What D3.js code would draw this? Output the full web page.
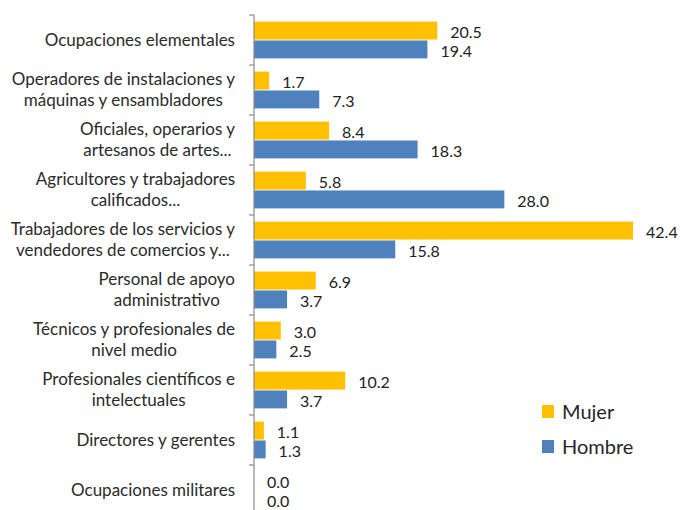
<!DOCTYPE html>
<html>
<head>
<meta charset="utf-8">
<script src="https://cdn.jsdelivr.net/npm/d3@7"></script>
<style>
  body { margin: 0; background: #fff; }
  svg { display: block; font-family: Lato, "Open Sans", sans-serif; }
</style>
</head>
<body>
<svg width="684" height="510"></svg>
<script>
// data
var categories = [
    "Ocupaciones elementales",
    "Operadores de instalaciones y|máquinas y ensambladores",
    "Oficiales, operarios y|artesanos de artes...",
    "Agricultores y trabajadores|calificados...",
    "Trabajadores de los servicios y|vendedores de comercios y...",
    "Personal de apoyo|administrativo",
    "Técnicos y profesionales de|nivel medio",
    "Profesionales científicos e|intelectuales",
    "Directores y gerentes",
    "Ocupaciones militares"
];
var series = ["Mujer", "Hombre"];
var mujer = [20.5, 1.7, 8.4, 5.8, 42.4, 6.9, 3.0, 10.2, 1.1, 0.0];
var hombre = [19.4, 7.3, 18.3, 28.0, 15.8, 3.7, 2.5, 3.7, 1.3, 0.0];
var colors = ["#FFC000", "#4F81BD"];

var svg = d3.select("svg");

var axisX = 254;

var x = d3.scaleLinear()
    .domain([0, 45])
    .range([axisX, axisX + 45 * 8.94]);

var y = d3.scaleBand()
    .domain(categories)
    .range([15, 515]);

var ySub = d3.scaleBand()
    .domain(series)
    .range([0, y.bandwidth()])
    .paddingInner(0.05)
    .paddingOuter(0.35);

var color = d3.scaleOrdinal().domain(series).range(colors);

var rows = categories.map(function (c, i) {
    return { cat: c, values: [{ s: "Mujer", v: mujer[i] }, { s: "Hombre", v: hombre[i] }] };
});

// bars
var groups = svg.selectAll("g.cat")
    .data(rows)
    .enter().append("g")
    .attr("class", "cat")
    .attr("transform", d => "translate(0," + y(d.cat) + ")");

groups.selectAll("rect")
    .data(d => d.values)
    .enter().append("rect")
    .attr("x", x(0))
    .attr("y", d => ySub(d.s))
    .attr("width", d => x(d.v) - x(0))
    .attr("height", ySub.bandwidth())
    .attr("fill", d => color(d.s));

// value labels
groups.selectAll("text.val")
    .data(d => d.values)
    .enter().append("text")
    .attr("class", "val")
    .attr("x", d => x(d.v) + 13)
    .attr("y", d => ySub(d.s) + ySub.bandwidth() / 2 + 2)
    .attr("dy", "0.35em")
    .attr("font-size", 16)
    .attr("fill", "#222")
    .text(d => d3.format(".1f")(d.v));

// axis line + ticks between categories
var axis = svg.append("g");
axis.append("line")
    .attr("x1", axisX).attr("x2", axisX)
    .attr("y1", y.range()[0]).attr("y2", y.range()[1])
    .attr("stroke", "#8a8a8a")
    .attr("stroke-width", 1.2);

axis.selectAll("line.tick")
    .data(categories)
    .enter().append("line")
    .attr("class", "tick")
    .attr("x1", axisX - 5).attr("x2", axisX)
    .attr("y1", d => y(d)).attr("y2", d => y(d))
    .attr("stroke", "#8a8a8a")
    .attr("stroke-width", 1.2);

// category labels (wrapped, centered block, right aligned)
var labelRight = 235;
var lineH = 21;
categories.forEach(function (c) {
    var lines = c.split("|");
    var g = svg.append("g");
    var t = g.selectAll("text")
        .data(lines)
        .enter().append("text")
        .attr("font-size", 17)
        .attr("fill", "#2b2b2b")
        .attr("text-anchor", "middle")
        .attr("dy", "0.35em")
        .attr("y", (d, i) => y(c) + y.bandwidth() / 2 + (i - (lines.length - 1) / 2) * lineH)
        .text(d => d);
    var maxW = d3.max(t.nodes(), n => n.getComputedTextLength());
    t.attr("x", labelRight - maxW / 2);
});

// legend
var legend = svg.append("g").attr("transform", "translate(542,405)");
var li = legend.selectAll("g")
    .data(series)
    .enter().append("g")
    .attr("transform", (d, i) => "translate(0," + i * 35 + ")");
li.append("rect")
    .attr("width", 12).attr("height", 13)
    .attr("fill", d => color(d));
li.append("text")
    .attr("x", 20)
    .attr("y", 7)
    .attr("dy", "0.36em")
    .attr("font-size", 20)
    .attr("fill", "#262626")
    .text(d => d);
</script>
</body>
</html>
